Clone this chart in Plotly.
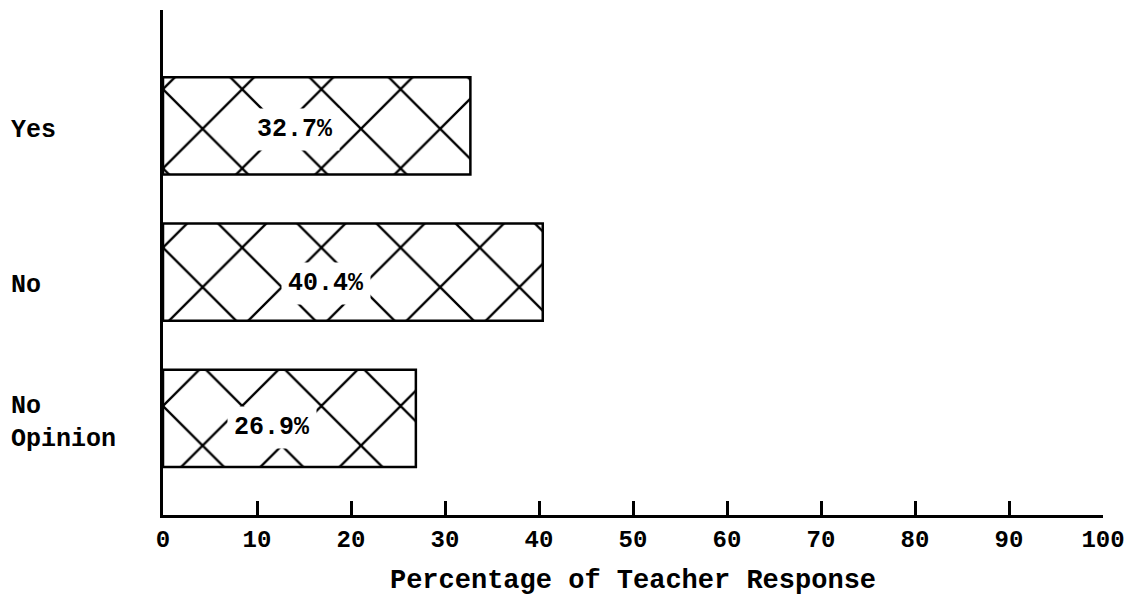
import plotly.graph_objects as go

categories = ["Yes", "No", "No Opinion"]
cat_labels = ["Yes", "No", "No<br>Opinion"]
values = [32.7, 40.4, 26.9]
value_labels = ["32.7%", "40.4%", "26.9%"]
x_ticks = [0, 10, 20, 30, 40, 50, 60, 70, 80, 90, 100]
x_title = "Percentage of Teacher Response"

FONT = "Liberation Mono"

fig = go.Figure()
fig.add_trace(go.Bar(
    y=categories, x=values, orientation="h", width=0.665,
    marker=dict(
        color="white",
        line=dict(color="black", width=2.5),
        pattern=dict(shape="x", size=56, solidity=0.08,
                     fgcolor="black", bgcolor="white", fillmode="replace"),
    ),
    hoverinfo="skip",
))

annotations = []
label_shift = [-5, -13, -5]
for c, lab, s in zip(categories, cat_labels, label_shift):
    annotations.append(dict(
        xref="paper", yref="y", x=-0.1637, y=c, text=lab, showarrow=False,
        xanchor="left", align="left", yshift=s,
        font=dict(family=FONT, size=25, color="black", weight="bold"),
    ))
text_shift = [-4, -11, -9]
for c, v, t, s in zip(categories, values, value_labels, text_shift):
    annotations.append(dict(
        xref="x", yref="y", x=v * 0.43, y=c, text=t, showarrow=False,
        yshift=s, bgcolor="white", borderpad=6,
        font=dict(family=FONT, size=25, color="black", weight="bold"),
    ))

fig.update_layout(
    width=1135, height=604,
    margin=dict(l=163, r=25, t=10, b=89),
    paper_bgcolor="white", plot_bgcolor="white",
    showlegend=False,
    annotations=annotations,
    xaxis=dict(
        range=[0, 100], tickvals=x_ticks, ticktext=[str(t) for t in x_ticks],
        showline=True, linecolor="black", linewidth=2.5,
        ticks="inside", ticklen=14, tickwidth=2.5, tickcolor="black",
        showgrid=False, zeroline=False, ticklabeloverflow="allow",
        tickfont=dict(family=FONT, size=24, color="black", weight="bold"),
        title=dict(text=x_title, standoff=17,
                   font=dict(family=FONT, size=27, color="black", weight="bold")),
    ),
    yaxis=dict(
        type="category", categoryarray=categories,
        range=[2.66, -0.793],
        showline=True, linecolor="black", linewidth=2.5,
        showticklabels=False, ticks="", showgrid=False, zeroline=False,
    ),
)

fig.write_html("out.html", config={"displayModeBar": False},
               post_script="document.body.style.margin='0';")
